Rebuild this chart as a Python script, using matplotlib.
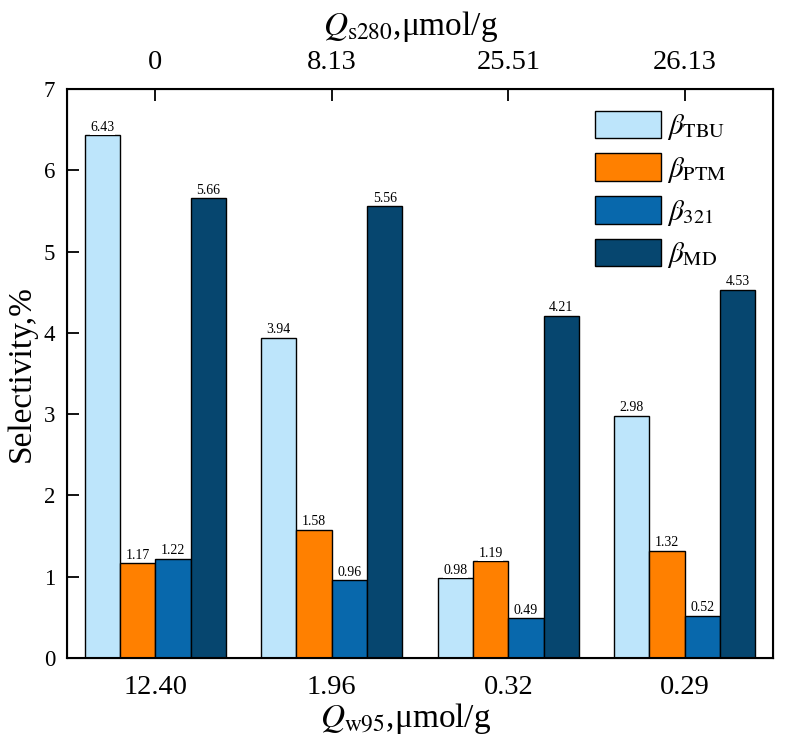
import numpy as np
from matplotlib import pyplot as plt

plt.rcParams['font.family'] = ['Liberation Serif', 'DejaVu Serif']
plt.rcParams['mathtext.fontset'] = 'stix'

w95_labels = ['12.40', '1.96', '0.32', '0.29']
s280_labels = ['0', '8.13', '25.51', '26.13']
series_names = [r'$\beta_{\mathrm{TBU}}$', r'$\beta_{\mathrm{PTM}}$',
                r'$\beta_{321}$', r'$\beta_{\mathrm{MD}}$']
tbu = [6.43, 3.94, 0.98, 2.98]
ptm = [1.17, 1.58, 1.19, 1.32]
b321 = [1.22, 0.96, 0.49, 0.52]
md = [5.66, 5.56, 4.21, 4.53]
colors = ['#BDE5FB', '#FF8000', '#0868AC', '#06466F']

fig = plt.figure(figsize=(7.85, 7.43), dpi=100)
ax = fig.add_axes([0.0854, 0.1144, 0.8993, 0.7658])

x = np.arange(len(w95_labels))
width = 0.2
for i, (vals, name) in enumerate(zip([tbu, ptm, b321, md], series_names)):
    bars = ax.bar(x + (i - 1.5) * width, vals, width, color=colors[i],
                  edgecolor='black', linewidth=1.0, label=name, zorder=2)
    ax.bar_label(bars, fmt='%.2f', fontsize=10, padding=1,
                 bbox=dict(facecolor='white', edgecolor='none', pad=0.5))

ax.set_xlim(-0.5, 3.5)
ax.set_ylim(0, 7)
ax.set_xticks(x)
ax.set_xticklabels(w95_labels, fontsize=20.5)
ax.set_yticks(range(8))
ax.tick_params(axis='y', direction='in', length=8.6, width=1.3, labelsize=16.5, pad=8.5)
ax.tick_params(axis='x', direction='in', length=6, width=1.3, pad=12)
ax.set_ylabel('Selectivity,%', fontsize=24, labelpad=5)
ax.set_xlabel(r'$Q_{\mathrm{w95}}$,μmol/g', fontsize=24)
ax.xaxis.set_label_coords(0.479, -0.076)
for s in ax.spines.values():
    s.set_linewidth(1.5)

top = ax.twiny()
top.set_xlim(ax.get_xlim())
top.set_xticks(x)
top.set_xticklabels(s280_labels, fontsize=20.5)
top.tick_params(axis='x', direction='in', length=8.6, width=1.3, pad=10)
top.set_xlabel(r'$Q_{\mathrm{s280}}$,μmol/g', fontsize=24, labelpad=10)
top.xaxis.set_label_coords(0.487, 1.095)

ax.legend(loc='upper left', fontsize=21, frameon=False, handlelength=2.25,
          handleheight=1.07, labelspacing=0.38, handletextpad=0.2,
          borderpad=0, borderaxespad=0, bbox_to_anchor=(0.748, 0.962))

fig.savefig('out.png', dpi=100)
